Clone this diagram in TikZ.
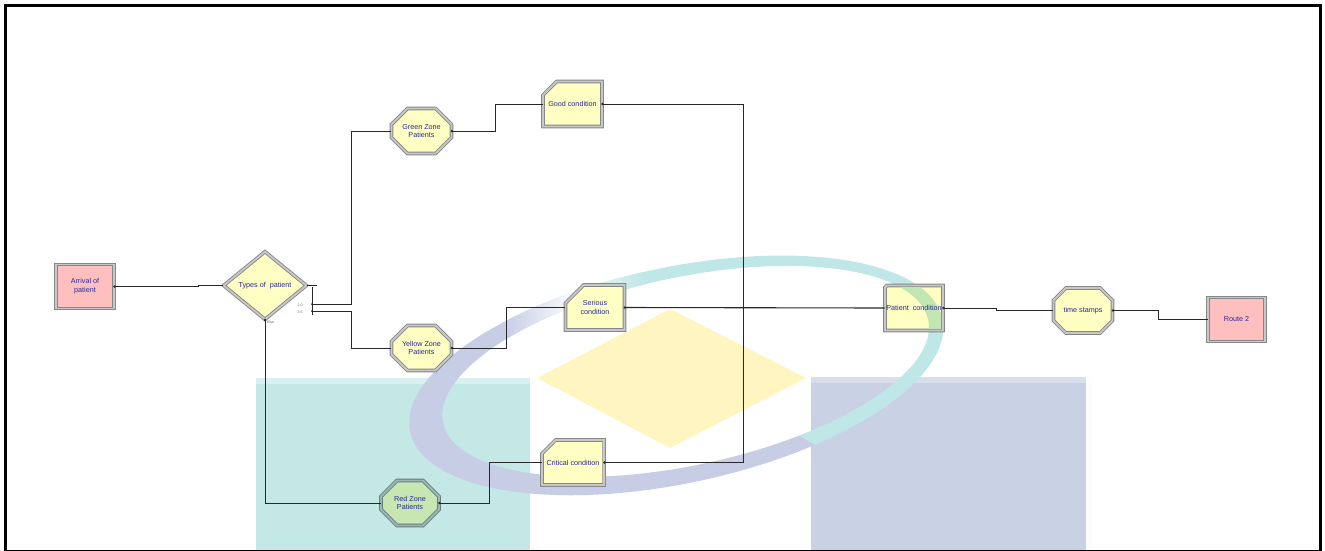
\documentclass[tikz,border=0pt]{standalone}
\usepackage{fontspec}
\setmainfont{Liberation Sans}
\usetikzlibrary{shapes.geometric,shapes.misc}

\definecolor{txtblue}{RGB}{40,40,150}
\definecolor{boxyellow}{RGB}{255,255,196}
\definecolor{boxpink}{RGB}{255,191,191}
\definecolor{boxgreen}{RGB}{198,230,178}
\definecolor{rimdark}{RGB}{135,135,135}
\definecolor{rimlight}{RGB}{200,200,200}
\definecolor{rimdarkteal}{RGB}{104,123,122}
\definecolor{rimlightteal}{RGB}{156,184,182}
\definecolor{wire}{RGB}{40,40,40}
\definecolor{wmteal}{RGB}{196,232,230}
\definecolor{wmtealtop}{RGB}{216,240,239}
\definecolor{wmlav}{RGB}{201,209,229}
\definecolor{wmlavtop}{RGB}{216,222,237}
\definecolor{wmyellow}{RGB}{255,245,192}
\definecolor{ringteal}{RGB}{192,231,231}
\definecolor{ringlav}{RGB}{200,205,230}
\definecolor{tintgreen}{RGB}{194,230,178}

\tikzset{
  module/.style={draw=rimdark, line width=0.9pt, double=rimlight,
    double distance=1.8pt, inner sep=1pt, align=center,
    font=\fontsize{7.2}{8.8}\selectfont, text=txtblue},
  stationbox/.style={module, rectangle, fill=boxpink,
    minimum width=58pt, minimum height=44pt},
  octabox/.style={module, chamfered rectangle, chamfered rectangle angle=45,
    chamfered rectangle xsep=8pt, chamfered rectangle ysep=8pt,
    fill=boxyellow, minimum width=60pt, minimum height=45pt},
  assignbox/.style={module, chamfered rectangle, chamfered rectangle angle=45,
    chamfered rectangle xsep=10pt, chamfered rectangle ysep=10pt,
    chamfered rectangle corners=north west,
    fill=boxyellow, minimum width=59pt, minimum height=45pt},
  decidebox/.style={module, diamond, fill=boxyellow,
    minimum width=83pt, minimum height=68pt},
  tealtinted/.style={fill=boxgreen, draw=rimdarkteal, double=rimlightteal},
  wire/.style={draw=wire, line width=0.8pt},
  tinylabel/.style={font=\fontsize{3.6}{4}\selectfont, text=gray!80!black, inner sep=0pt},
  exitdot/.style={fill=wire},
  ringtilt/.style={rotate around={12:(678,374)}},
  untilt/.style={rotate around={-12:(678,374)}},
}

\begin{document}
\begin{tikzpicture}[x=1pt, y=-1pt]
\useasboundingbox (0,0) rectangle (1325,550);

% ---------- faded emblem in the background ----------
\fill[wmteal] (256,378) rectangle (530,552);
\fill[wmtealtop] (256,378) rectangle (530,384);
\fill[white!95!wmteal] (530,378) rectangle (537,552);
\fill[wmlav] (811,377) rectangle (1086,552);
\fill[wmlavtop] (811,377) rectangle (1086,383);
\fill[white!94!wmlav] (1086,377) rectangle (1092,552);
\fill[wmyellow] (537,378) -- (670,309) -- (806,378) -- (670,448) -- cycle;
% ring: teal over the top and right, lavender round the left and bottom
\begin{scope}
  \clip (300,129.6) -- (1000,558.3) -- (1100,558.3) -- (1100,100) -- (300,100) -- cycle;
  \begin{scope}[even odd rule, ringtilt]
    \clip (676,375) ellipse [x radius=272pt, y radius=108pt]
          (686,373) ellipse [x radius=248pt, y radius=94pt];
    \fill[ringteal, untilt] (300,100) rectangle (1100,560);
    \shade[untilt, left color=white, right color=ringteal] (548,240) rectangle (645,302);
  \end{scope}
\end{scope}
\begin{scope}
  \clip (300,129.6) -- (1000,558.3) -- (300,558.3) -- cycle;
  \begin{scope}[even odd rule, ringtilt]
    \clip (676,375) ellipse [x radius=272pt, y radius=108pt]
          (686,373) ellipse [x radius=248pt, y radius=94pt];
    \fill[ringlav, untilt] (300,100) rectangle (1100,560);
    \shade[untilt, left color=ringlav, right color=white] (505,288) rectangle (578,345);
  \end{scope}
\end{scope}

% ---------- outer frame ----------
\draw[line width=3pt, black] (5.5,5.5) rectangle (1320,551.5);

% ---------- modules ----------
\node[stationbox] (arrival) at (85,286.5) {Arrival of\\patient};
\node[decidebox]  (dia)     at (265,285.5) {Types of\ \ patient};
\node[octabox]    (green)   at (421.5,131) {Green Zone\\Patients};
\node[octabox]    (yellow)  at (421.5,348) {Yellow Zone\\Patients};
\node[octabox, tealtinted, minimum width=58pt] (red) at (410,503) {Red Zone\\Patients};
\node[assignbox]  (good)    at (572.5,104) {Good condition};
\node[assignbox]  (serious) at (595,307.5) {Serious\\condition};
\node[assignbox]  (critical) at (573,462.5) {Critical condition};
\node[assignbox, minimum width=58pt] (patient) at (914,308) {};
% the ring shows through the right part of this module
\begin{scope}
  \clip (886.8,287.3) rectangle (941.2,328.7);
  \fill[tintgreen, even odd rule, ringtilt]
    (676,375) ellipse [x radius=272pt, y radius=108pt]
    (686,373) ellipse [x radius=248pt, y radius=94pt];
\end{scope}
\node[font=\fontsize{7.2}{8.8}\selectfont, text=txtblue, inner sep=0pt]
  (patientlabel) at (patient.center) {Patient\ \ condition};
\node[octabox, minimum width=59pt] (stamps) at (1083,310.5) {time stamps};
\node[stationbox, minimum width=57pt] (route) at (1236.5,319.5) {Route 2};

% ---------- decide exits: stub bar with two chance exits and the else exit ----------
\coordinate (stubtop) at (312,287);
\coordinate (exA) at (312,304);
\coordinate (exB) at (312,311);
\coordinate (merge) at (743,307.5);
\draw[wire, line width=0.6pt] (dia.east) -- ++(10,0);
\draw[wire, line width=0.6pt] (stubtop) -- ++(0,28);
\node[tinylabel] (pA) at (300,305.5) {2.0};
\node[tinylabel] (pB) at (300,312.5) {3.5};
\node[tinylabel, anchor=west] (pElse) at (267,322.5) {Else};

% ---------- connectors ----------
\draw[wire] (arrival.east) -- ++(84,0) |- (dia.west);
\draw[wire] (exA) -- ++(39,0) |- (green.west);
\draw[wire] (exB) -- ++(39,0) |- (yellow.west);
\draw[wire] (dia.south) |- (red.west);
\draw[wire] (green.east) -- ++(43,0) |- (good.west);
\draw[wire] (yellow.east) -- ++(54,0) |- (serious.west);
\draw[wire] (red.east) -- ++(50,0) |- (critical.west);
\draw[wire] (good.east) -| (merge);
\draw[wire] (critical.east) -| (merge);
\draw[wire, line width=1.1pt] (serious.east) -- (patient.west);
\draw[wire] (patient.east) -- ++(53,0) |- (stamps.west);
\draw[wire] (stamps.east) -- ++(45,0) |- (route.west);

% ---------- exit points ----------
\foreach \p in {arrival.east, green.east, yellow.east, red.east, good.east,
                serious.east, critical.east, patient.east, stamps.east, dia.south}
  \fill[exitdot] (\p) circle (1.3pt);
\fill[exitdot] (exA) circle (1pt);
\fill[exitdot] (exB) circle (1pt);
\end{tikzpicture}
\end{document}
